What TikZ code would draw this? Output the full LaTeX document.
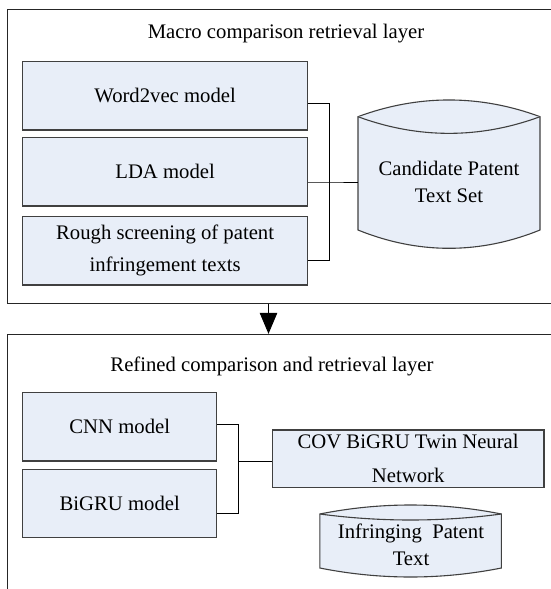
\documentclass[tikz,border=0pt]{standalone}
\usepackage{fontspec}
\setmainfont{Liberation Serif}
\usetikzlibrary{arrows.meta}
\definecolor{boxblue}{RGB}{232,238,248}
\begin{document}
\begin{tikzpicture}[x=1pt, y=-1pt,
        layer/.style={draw=black!85, line width=0.9pt, minimum width=553.4pt, inner sep=0pt},
        model/.style={draw=black!75, line width=1.3pt, fill=boxblue, inner sep=0pt, minimum height=68.3pt, align=center},
        store/.style={draw=black!75, line width=1.1pt, fill=boxblue},
        conn/.style={line width=0.9pt},
        font=\fontsize{20.7}{26.7}\selectfont]
        \useasboundingbox (0,0) rectangle (551,589);
        \clip (0,0) rectangle (551,589);

        \node[layer, minimum height=294pt] (macro) at (284,156.3) {};
        \node[layer, minimum height=265.7pt] (refined) at (284,467.15) {};
        \coordinate (a) at (268.5,0);
        \draw[conn, -{Triangle[length=21pt,width=17.5pt]}] (a |- macro.south) -- (a |- refined.north);

        \node[inner sep=0pt] (t1) at (286,33.3) {Macro comparison retrieval layer};
        \node[model, minimum width=284.8pt] (w2v) at (165.1,95.85) {Word2vec model};
        \node[model, minimum width=284.8pt] (lda) at (165.1,171.85) {LDA model};
        \node[model, minimum width=284.8pt, font=\fontsize{20.7}{32}\selectfont] (rough) at (165.1,250.85)
            {Rough screening of patent\\infringement texts};

        \draw[store] (358,116.7) .. controls (418,94.4) and (480,94.4) .. (540,116.7) -- (540,230)
            .. controls (480,254.4) and (418,254.4) .. (358,230) -- cycle;
        \draw[store] (358,116.7) .. controls (418,138.9) and (480,138.9) .. (540,116.7);
        \node[inner sep=0pt, minimum width=182pt, align=center] (cand) at (449,181.7) {Candidate Patent\\Text Set};

        \coordinate (jt) at (329.3,182);
        \draw[conn] ([yshift=-7.45pt]w2v.east) -| (jt);
        \draw[conn] ([yshift=-9.85pt]rough.east) -| (jt);
        \draw[conn] ([yshift=-10.15pt]lda.east) -- (jt) -- (jt -| cand.west);

        \node[inner sep=0pt] (t2) at (272,366.7) {Refined comparison and retrieval layer};
        \node[model, minimum width=194.1pt] (cnn) at (119.75,426.85) {CNN model};
        \node[model, minimum width=194.1pt] (bigru) at (119.75,503.5) {BiGRU model};
        \node[model, minimum width=271.7pt, minimum height=57.3pt, font=\fontsize{20.7}{33.7}\selectfont] (cov)
            at (408.15,458.65) {COV BiGRU Twin Neural\\Network};

        \draw[store] (319.8,514) .. controls (380,502) and (441,502) .. (501.4,514) -- (501.4,568)
            .. controls (441,580) and (380,580) .. (319.8,568) -- cycle;
        \draw[store] (319.8,514) .. controls (380,522) and (441,522) .. (501.4,514);
        \node[inner sep=0pt, align=center] (infr) at (411,545) {Infringing\ \ Patent\\Text};

        \coordinate (jb) at (238.7,461.7);
        \draw[conn] ([yshift=2.15pt]cnn.east) -| (jb);
        \draw[conn] ([yshift=-9.8pt]bigru.east) -| (jb);
        \draw[conn] (jb) -- (jb -| cov.west);
\end{tikzpicture}
\end{document}
